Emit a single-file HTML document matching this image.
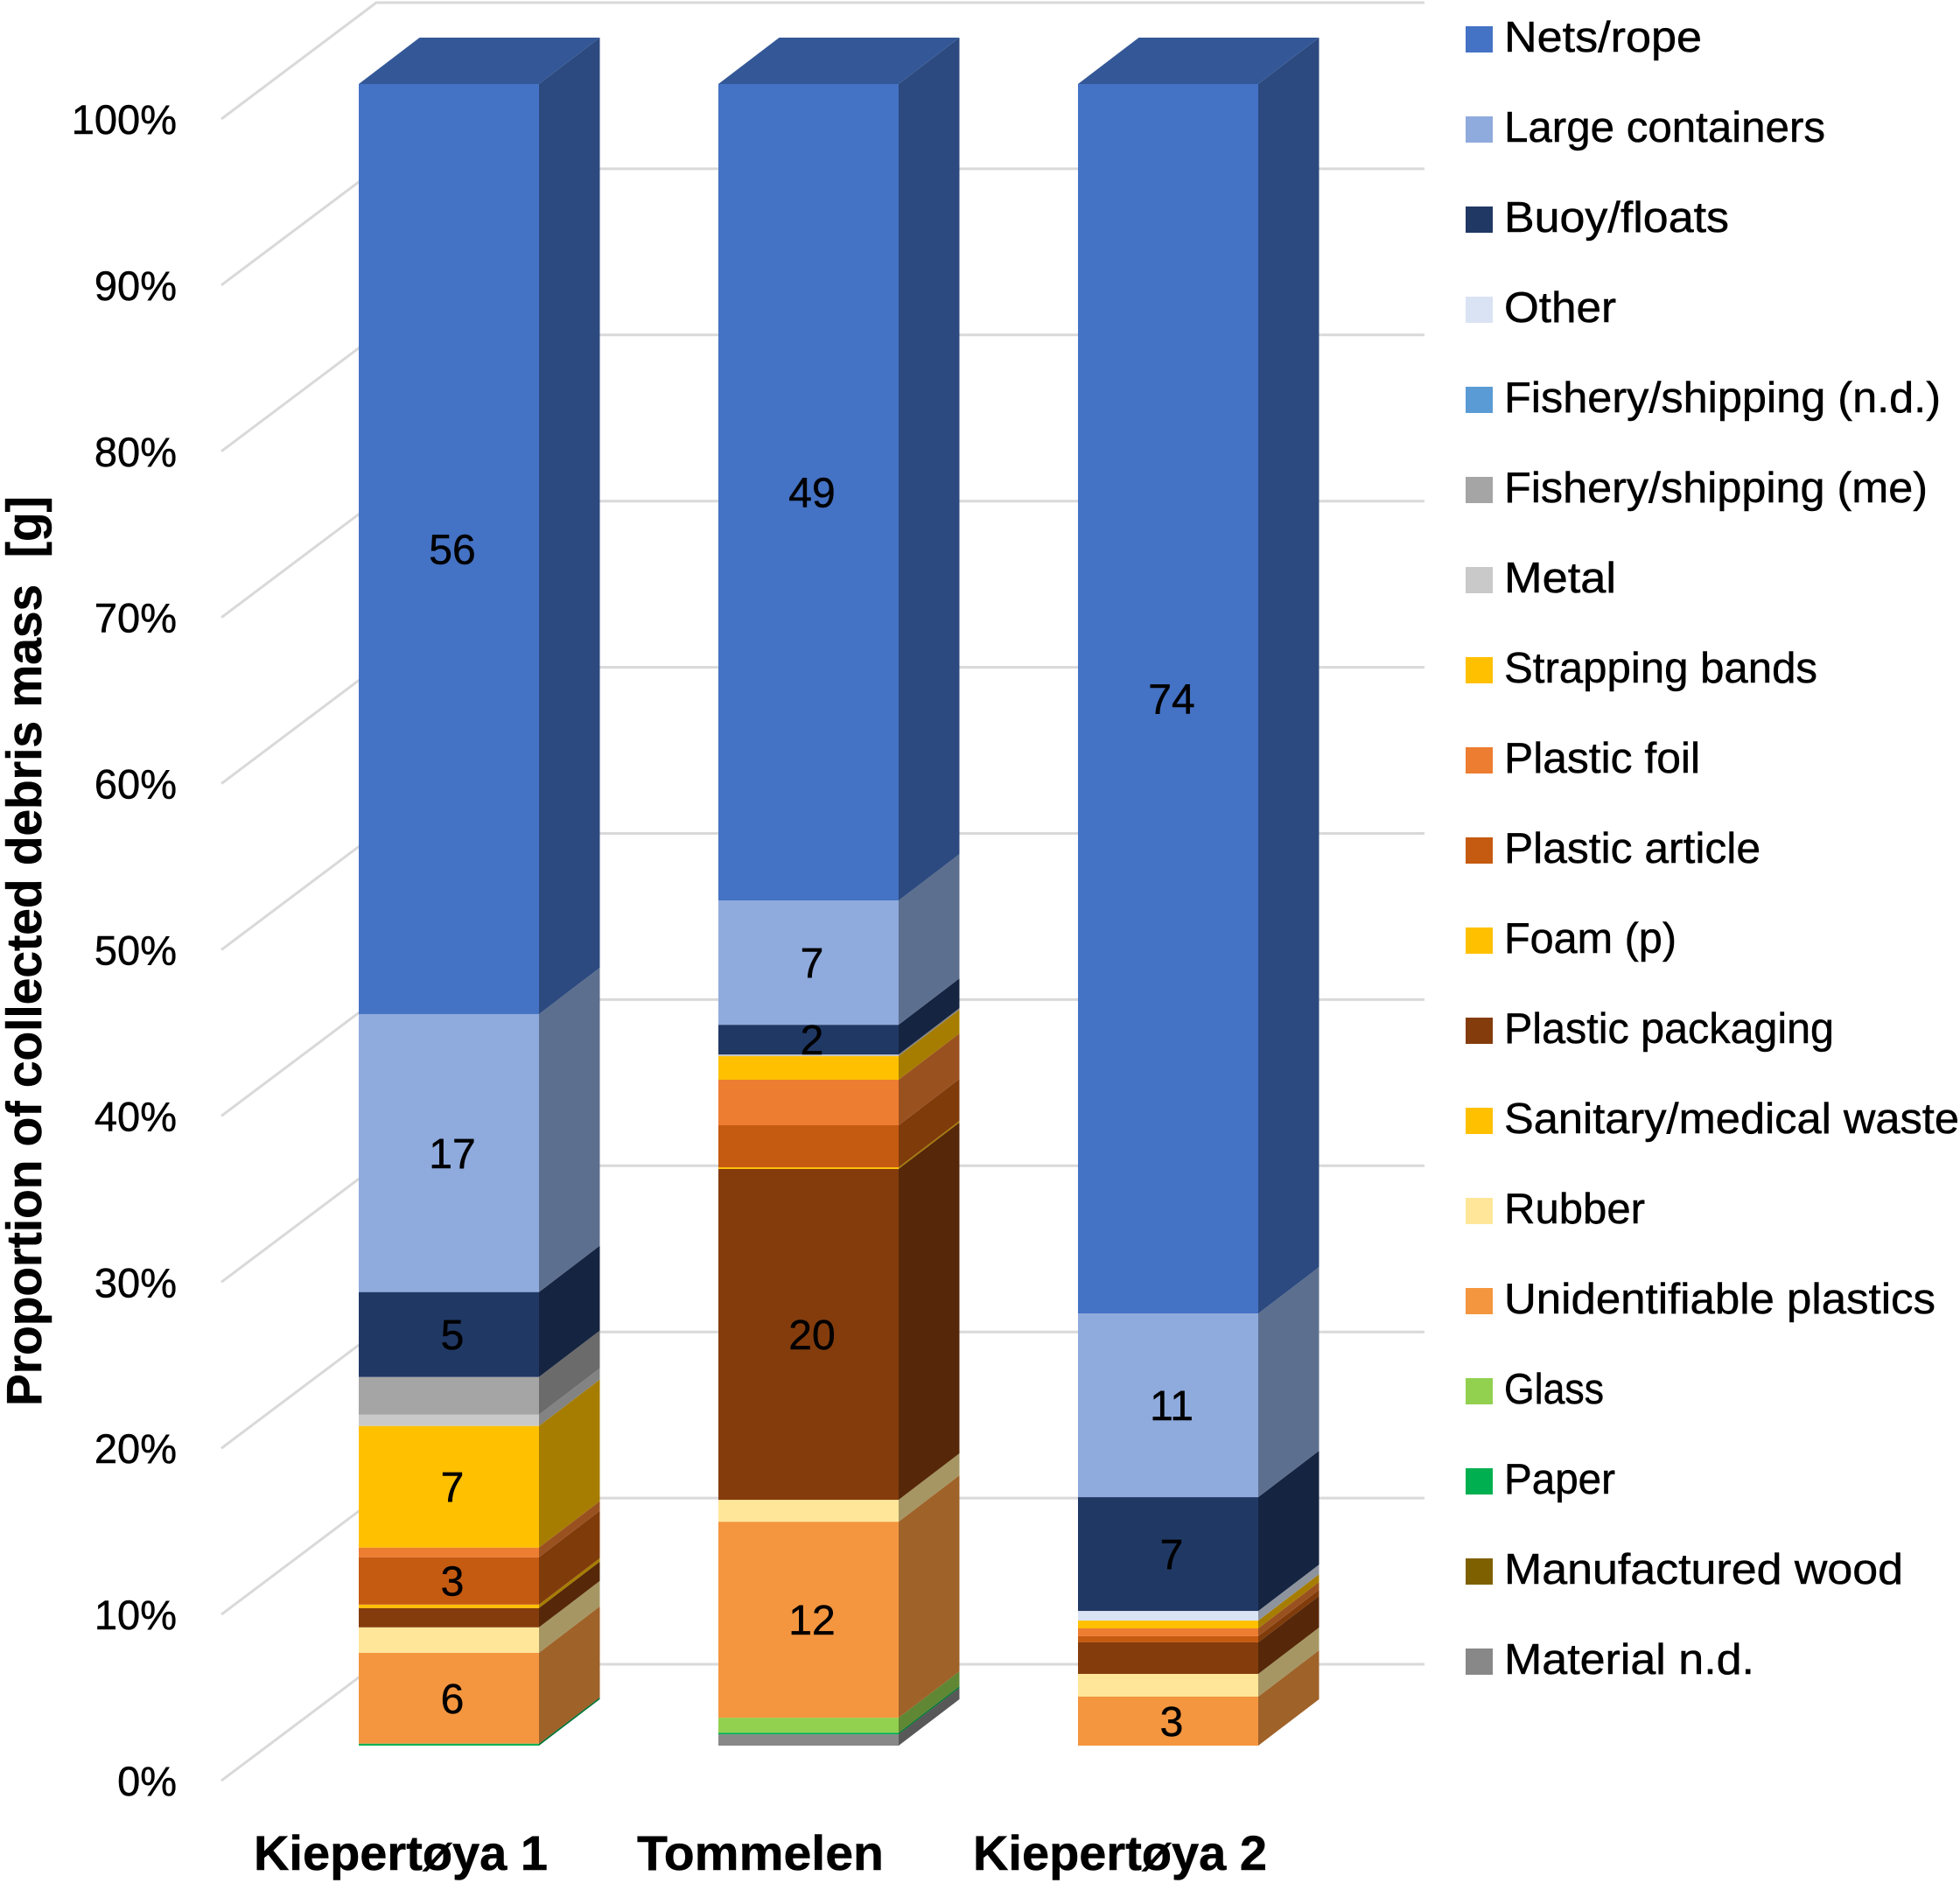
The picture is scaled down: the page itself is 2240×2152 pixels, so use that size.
<!DOCTYPE html>
<html lang="en">
<head>
<meta charset="utf-8">
<title>Proportion of collected debris mass</title>
<style>
html,body{margin:0;padding:0;background:#fff;}
svg{display:block;}
text{font-family:"Liberation Sans",sans-serif;fill:#000;stroke:#000;stroke-width:0.5px;}
</style>
</head>
<body>
<svg id="chart" xmlns="http://www.w3.org/2000/svg" width="2240" height="2152" viewBox="0 0 2240 2152">
  <rect x="0" y="0" width="2240" height="2152" fill="#ffffff"/>
  <g id="grid"></g>
  <g id="ticks"></g>
  <g id="bars"></g>
  <g id="cats"></g>
  <text transform="translate(47,1087) rotate(-90)" text-anchor="middle" font-size="57" font-weight="700" textLength="1040" lengthAdjust="spacingAndGlyphs" style="white-space:pre">Proportion of collected debris mass  [g]</text>

  <g font-size="49">
    <g><rect x="1675" y="30" width="31" height="30" fill="#4472C4"/><text x="1719" y="59" textLength="226" lengthAdjust="spacingAndGlyphs">Nets/rope</text></g>
    <g><rect x="1675" y="133" width="31" height="30" fill="#8FAADC"/><text x="1719" y="162" textLength="367" lengthAdjust="spacingAndGlyphs">Large containers</text></g>
    <g><rect x="1675" y="236" width="31" height="30" fill="#203864"/><text x="1719" y="265" textLength="257" lengthAdjust="spacingAndGlyphs">Buoy/floats</text></g>
    <g><rect x="1675" y="339" width="31" height="30" fill="#DAE3F3"/><text x="1719" y="368" textLength="128" lengthAdjust="spacingAndGlyphs">Other</text></g>
    <g><rect x="1675" y="442" width="31" height="30" fill="#5B9BD5"/><text x="1719" y="471" textLength="499" lengthAdjust="spacingAndGlyphs">Fishery/shipping (n.d.)</text></g>
    <g><rect x="1675" y="545" width="31" height="30" fill="#A5A5A5"/><text x="1719" y="574" textLength="484" lengthAdjust="spacingAndGlyphs">Fishery/shipping (me)</text></g>
    <g><rect x="1675" y="648" width="31" height="30" fill="#C9C9C9"/><text x="1719" y="677" textLength="128" lengthAdjust="spacingAndGlyphs">Metal</text></g>
    <g><rect x="1675" y="751" width="31" height="30" fill="#FFC000"/><text x="1719" y="780" textLength="358" lengthAdjust="spacingAndGlyphs">Strapping bands</text></g>
    <g><rect x="1675" y="854" width="31" height="30" fill="#ED7D31"/><text x="1719" y="883" textLength="224" lengthAdjust="spacingAndGlyphs">Plastic foil</text></g>
    <g><rect x="1675" y="957" width="31" height="30" fill="#C55A11"/><text x="1719" y="986" textLength="293" lengthAdjust="spacingAndGlyphs">Plastic article</text></g>
    <g><rect x="1675" y="1060" width="31" height="30" fill="#FFC000"/><text x="1719" y="1089" textLength="197" lengthAdjust="spacingAndGlyphs">Foam (p)</text></g>
    <g><rect x="1675" y="1163" width="31" height="30" fill="#843C0C"/><text x="1719" y="1192" textLength="377" lengthAdjust="spacingAndGlyphs">Plastic packaging</text></g>
    <g><rect x="1675" y="1266" width="31" height="30" fill="#FFC000"/><text x="1719" y="1295" textLength="520" lengthAdjust="spacingAndGlyphs">Sanitary/medical waste</text></g>
    <g><rect x="1675" y="1369" width="31" height="30" fill="#FFE699"/><text x="1719" y="1398" textLength="161" lengthAdjust="spacingAndGlyphs">Rubber</text></g>
    <g><rect x="1675" y="1472" width="31" height="30" fill="#F4963F"/><text x="1719" y="1501" textLength="493" lengthAdjust="spacingAndGlyphs">Unidentifiable plastics</text></g>
    <g><rect x="1675" y="1575" width="31" height="30" fill="#92D050"/><text x="1719" y="1604" textLength="114" lengthAdjust="spacingAndGlyphs">Glass</text></g>
    <g><rect x="1675" y="1678" width="31" height="30" fill="#00B050"/><text x="1719" y="1707" textLength="127" lengthAdjust="spacingAndGlyphs">Paper</text></g>
    <g><rect x="1675" y="1781" width="31" height="30" fill="#7F6000"/><text x="1719" y="1810" textLength="456" lengthAdjust="spacingAndGlyphs">Manufactured wood</text></g>
    <g><rect x="1675" y="1884" width="31" height="30" fill="#888888"/><text x="1719" y="1913" textLength="286" lengthAdjust="spacingAndGlyphs">Material n.d.</text></g>
  </g>
</svg>
<script>
// Chart data (percent of collected debris mass)
const categories = ['Kiepertøya 1', 'Tommelen', 'Kiepertøya 2'];
const tickValues = [0, 10, 20, 30, 40, 50, 60, 70, 80, 90, 100];
const tickLabels = ['0%', '10%', '20%', '30%', '40%', '50%', '60%', '70%', '80%', '90%', '100%'];
const seriesNames = ['Nets/rope', 'Large containers', 'Buoy/floats', 'Other', 'Fishery/shipping (n.d.)', 'Fishery/shipping (me)', 'Metal', 'Strapping bands', 'Plastic foil', 'Plastic article', 'Foam (p)', 'Plastic packaging', 'Sanitary/medical waste', 'Rubber', 'Unidentifiable plastics', 'Glass', 'Paper', 'Manufactured wood', 'Material n.d.'];
const seriesColors = ['#4472C4', '#8FAADC', '#203864', '#DAE3F3', '#5B9BD5', '#A5A5A5', '#C9C9C9', '#FFC000', '#ED7D31', '#C55A11', '#FFC000', '#843C0C', '#FFC000', '#FFE699', '#F4963F', '#92D050', '#00B050', '#7F6000', '#888888'];
const kiepertoya1Values = [55.98, 16.73, 5.11, 0, 0, 2.27, 0.68, 7.32, 0.58, 2.85, 0.21, 1.16, 0, 1.53, 5.47, 0, 0.12, 0, 0];
const tommelenValues = [49.16, 7.48, 1.79, 0, 0, 0, 0.1, 1.42, 2.74, 2.53, 0.1, 19.92, 0, 1.32, 11.8, 0.9, 0.1, 0, 0.68];
const kiepertoya2Values = [74.03, 11.06, 6.85, 0.58, 0, 0, 0, 0.47, 0.47, 0.37, 0, 1.9, 0, 1.37, 2.95, 0, 0, 0, 0];
const kiepertoya1Printed = ['56', '17', '5', '', '', '', '', '7', '', '3', '', '', '', '', '6', '', '', '', ''];
const tommelenPrinted = ['49', '7', '2', '', '', '', '', '', '', '', '', '20', '', '', '12', '', '', '', ''];
const kiepertoya2Printed = ['74', '11', '7', '', '', '', '', '', '', '', '', '', '', '', '3', '', '', '', ''];

const siteValues = [kiepertoya1Values, tommelenValues, kiepertoya2Values];
const sitePrinted = [kiepertoya1Printed, tommelenPrinted, kiepertoya2Printed];

const SVGNS = 'http://www.w3.org/2000/svg';
const FRONT_BOTTOM = 1995, FRONT_HEIGHT = 1899;
const WALL_BOTTOM = 1902, WALL_HEIGHT = 1899;
const WALL_LEFT = 430, WALL_RIGHT = 1628, SIDE_DX = 177, SIDE_DY = 133;
const BAR_WIDTH = 206, BAR_DX = 69.5, BAR_DY = 53;

function make(tag, attrs) {
  const el = document.createElementNS(SVGNS, tag);
  for (const k in attrs) el.setAttribute(k, attrs[k]);
  return el;
}
const xBar = i => 410 + 411 * i;
const yFront = p => FRONT_BOTTOM - (p / 100) * FRONT_HEIGHT;
const yWall = p => WALL_BOTTOM - (p / 100) * WALL_HEIGHT;
function shade(hex, f) {
  const n = parseInt(hex.slice(1), 16);
  const c = [(n >> 16) & 255, (n >> 8) & 255, n & 255].map(v => Math.round(v * f));
  return 'rgb(' + c.join(',') + ')';
}

const gridG = document.getElementById('grid');
const ticksG = document.getElementById('ticks');
tickValues.forEach((t, i) => {
  const y = yWall(t);
  const line = make('polyline', {
    points: (WALL_LEFT - SIDE_DX) + ',' + (y + SIDE_DY) + ' ' + WALL_LEFT + ',' + y + ' ' + WALL_RIGHT + ',' + y,
    fill: 'none', stroke: '#D9D9D9', 'stroke-width': 3
  });
  
  
  gridG.appendChild(line);
  const label = make('text', { x: 202, y: y + SIDE_DY + 17, 'text-anchor': 'end', 'font-size': 47 });
  label.textContent = tickLabels[i];
  
  
  ticksG.appendChild(label);
});

const barsG = document.getElementById('bars');
const catsG = document.getElementById('cats');
categories.forEach((cat, c) => {
  const values = siteValues[c];
  const printed = sitePrinted[c];
  const total = values.reduce((a, b) => a + b, 0);
  const x0 = xBar(c), x1 = x0 + BAR_WIDTH;
  const g = make('g', {});
  
  
  barsG.appendChild(g);

  let cum = 0;
  for (let s = values.length - 1; s >= 0; s--) {
    const v = values[s];
    if (v <= 0) continue;
    const yB = yFront(cum / total * 100);
    cum += v;
    const yT = yFront(cum / total * 100);
    const color = seriesColors[s];
    const side = make('polygon', {
      points: x1 + ',' + yB + ' ' + (x1 + BAR_DX) + ',' + (yB - BAR_DY) + ' ' + (x1 + BAR_DX) + ',' + (yT - BAR_DY) + ' ' + x1 + ',' + yT,
      fill: shade(color, 0.65)
    });
    
    
    g.appendChild(side);
    const front = make('rect', { x: x0, y: yT, width: BAR_WIDTH, height: yB - yT, fill: color });
    
    
    g.appendChild(front);
    if (s === 0) {
      const top = make('polygon', {
        points: x0 + ',' + yT + ' ' + x1 + ',' + yT + ' ' + (x1 + BAR_DX) + ',' + (yT - BAR_DY) + ' ' + (x0 + BAR_DX) + ',' + (yT - BAR_DY),
        fill: shade(color, 0.77)
      });
      
      
      g.appendChild(top);
    }
  }

  cum = 0;
  for (let s = values.length - 1; s >= 0; s--) {
    const v = values[s];
    const mid = yFront((cum + v / 2) / total * 100);
    cum += v;
    if (!printed[s]) continue;
    const t = make('text', { x: x0 + BAR_WIDTH / 2 + 4, y: mid + 17, 'text-anchor': 'middle', 'font-size': 48 });
    t.textContent = printed[s];
    
    
    g.appendChild(t);
  }

  const catLabel = make('text', { x: x0 + BAR_WIDTH / 2 - 55, y: 2137, 'text-anchor': 'middle', 'font-size': 56, 'font-weight': 700, textLength: c === 1 ? 282 : 336, lengthAdjust: 'spacingAndGlyphs' });
  catLabel.textContent = cat;
  
  
  catsG.appendChild(catLabel);
});
</script>
</body>
</html>
